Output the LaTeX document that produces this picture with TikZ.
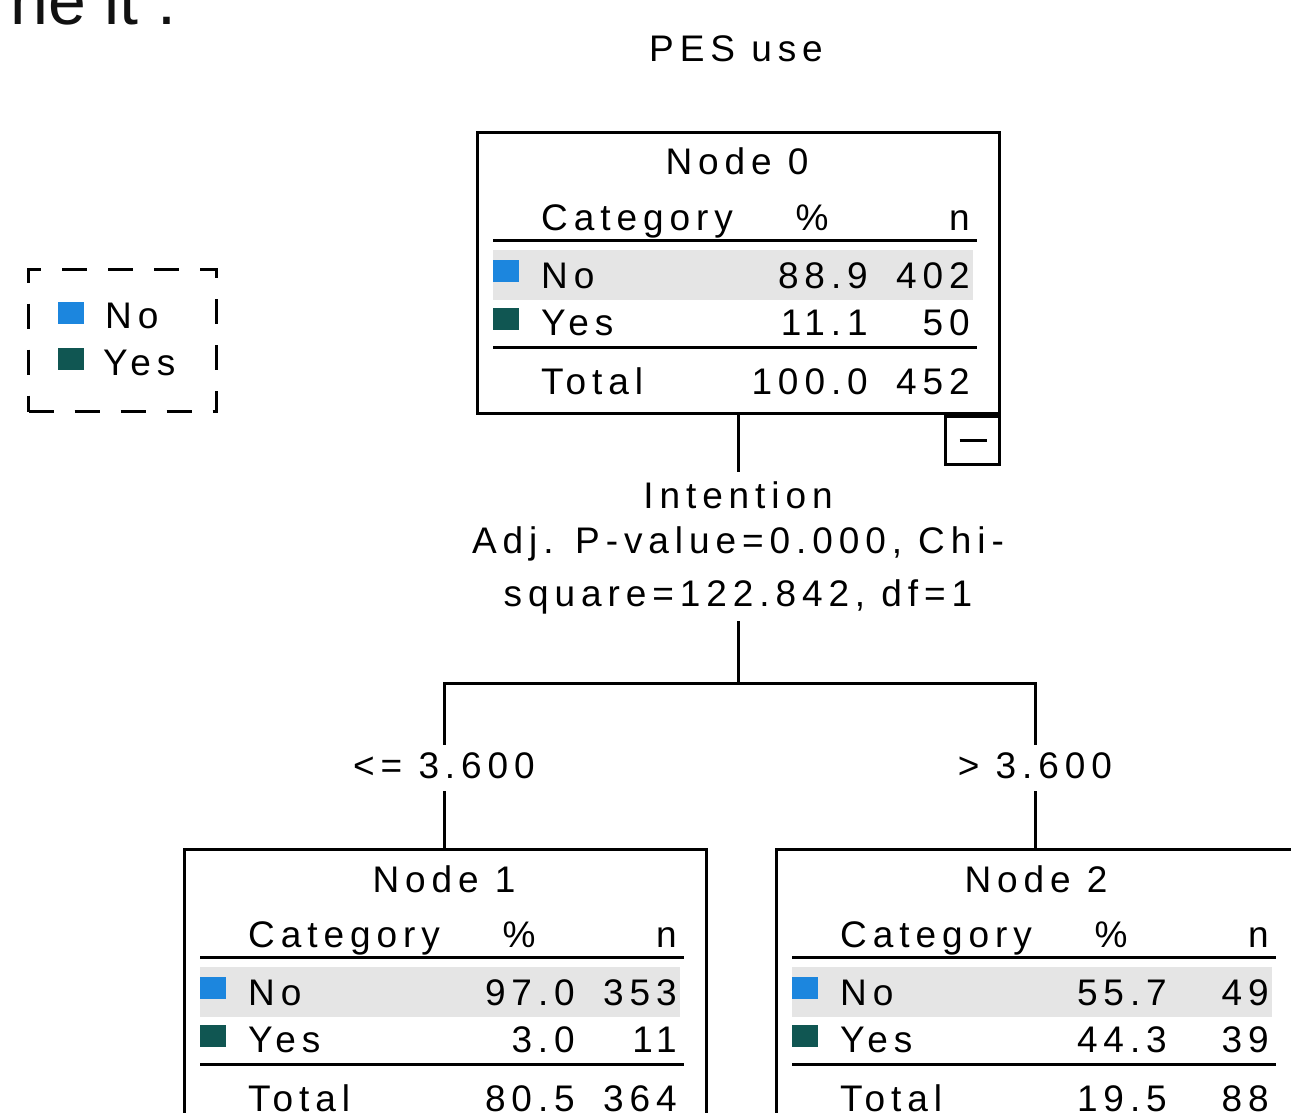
\documentclass[tikz,border=0pt]{standalone}
\usepackage{fontspec}
\newfontfamily\spssfont[LetterSpace=16]{Liberation Sans}
\newfontfamily\plainfont{Liberation Sans}
\definecolor{noblue}{RGB}{28,134,222}
\definecolor{yesteal}{RGB}{16,86,82}
\definecolor{rowgrey}{RGB}{229,229,229}
\tikzset{
  txt/.style={inner sep=0pt, font=\spssfont\fontsize{37}{44}\selectfont, text=black},
  box/.style={draw=black, line width=3pt, inner sep=0pt},
  rulestyle/.style={line width=3pt},
  conn/.style={line width=3pt},
  swatch/.style={minimum width=26pt, minimum height=22pt, inner sep=0pt, draw=none},
  legendbox/.style={draw=black, line width=3pt, dash pattern=on 25pt off 21pt, inner sep=0pt},
  lbl/.style={txt, inner xsep=0pt, inner ysep=6pt, text height=27pt, text depth=7pt},
}
\newcommand\treebox[9]{%
  \node[box, anchor=north west, minimum width=522pt, minimum height=281pt] (n#1) at (#2,#3) {};
  \begin{scope}[shift={(#2,#3)}]
    \fill[rowgrey] (17,119) rectangle (497,169);
    \draw[rulestyle] (17,109) -- (501,109);
    \draw[rulestyle] (17,216) -- (501,216);
    \node[txt, anchor=base] (n#1-title) at (261,44) {Node #1};
    \node[txt, anchor=base west] (n#1-cat) at (65,99) {Category};
    \node[txt, anchor=base] (n#1-pcthead) at (336,99) {\%};
    \node[txt, anchor=base east] (n#1-nhead) at (494,99) {n};
    \node[swatch, fill=noblue, anchor=north west] (n#1-sqno) at (17,129) {};
    \node[txt, anchor=base west] (n#1-no) at (65,157) {No};
    \node[txt, anchor=base east] (n#1-nopct) at (392,157) {#4};
    \node[txt, anchor=base east] (n#1-non) at (494,157) {#5};
    \node[swatch, fill=yesteal, anchor=north west] (n#1-sqyes) at (17,177) {};
    \node[txt, anchor=base west] (n#1-yes) at (65,204) {Yes};
    \node[txt, anchor=base east] (n#1-yespct) at (392,204) {#6};
    \node[txt, anchor=base east] (n#1-yesn) at (494,204) {#7};
    \node[txt, anchor=base west] (n#1-tot) at (65,263) {Total};
    \node[txt, anchor=base east] (n#1-totpct) at (392,263) {#8};
    \node[txt, anchor=base east] (n#1-totn) at (494,263) {#9};
  \end{scope}}
\begin{document}
\begin{tikzpicture}[x=1pt,y=-1pt]
\useasboundingbox (0,0) rectangle (1291,1113);
\fill[white] (0,0) rectangle (1291,1113);

% cropped fragment of page text
\node[anchor=base west, inner sep=0pt, font=\plainfont\fontsize{68}{80}\selectfont, text={rgb,255:red,17;green,17;blue,17}] (frag) at (10,25) {ne it .};

% title
\node[txt, anchor=base] (title) at (736,62) {PES use};

% legend
\node[legendbox, anchor=north west, minimum width=188pt, minimum height=142pt] (legend) at (27,268) {};
\node[swatch, fill=noblue, anchor=north west] (lg-sqno) at (58,302) {};
\node[txt, anchor=base west] (lg-no) at (105,328) {No};
\node[swatch, fill=yesteal, anchor=north west] (lg-sqyes) at (58,348) {};
\node[txt, anchor=base west] (lg-yes) at (103,375) {Yes};

% tree nodes
\treebox{0}{476}{131}{88.9}{402}{11.1}{50}{100.0}{452}
\treebox{1}{183}{848}{97.0}{353}{3.0}{11}{80.5}{364}
\treebox{2}{775}{848}{55.7}{49}{44.3}{39}{19.5}{88}

% collapse toggle
\node[box, anchor=north east, minimum width=54pt, minimum height=48pt] (toggle) at (n0.south east) {};
\draw[conn] ([xshift=-13pt]toggle.center) -- ([xshift=14pt]toggle.center);

% split label
\node[lbl, inner ysep=9pt, anchor=base] (split1) at (738,508) {Intention};
\node[txt, anchor=base] (split2) at (738,553) {Adj. P-value=0.000, Chi-};
\node[lbl, inner ysep=8pt, anchor=base] (split3) at (738,606) {square=122.842, df=1};

% branch labels
\node[lbl, anchor=base] (lbl1) at (444,778) {<= 3.600};
\node[lbl, anchor=base] (lbl2) at (1035,778) {> 3.600};

% connectors
\coordinate (fork) at (738,683);
\draw[conn] (n0.south -| split1.north) -- (split1.north);
\draw[conn] (split3.south) -- (fork);
\draw[conn] (lbl1.north) -- (lbl1.north |- fork) -- (lbl2.north |- fork) -- (lbl2.north);
\draw[conn] (lbl1.south) -- (lbl1.south |- n1.north);
\draw[conn] (lbl2.south) -- (lbl2.south |- n2.north);
\end{tikzpicture}
\end{document}
